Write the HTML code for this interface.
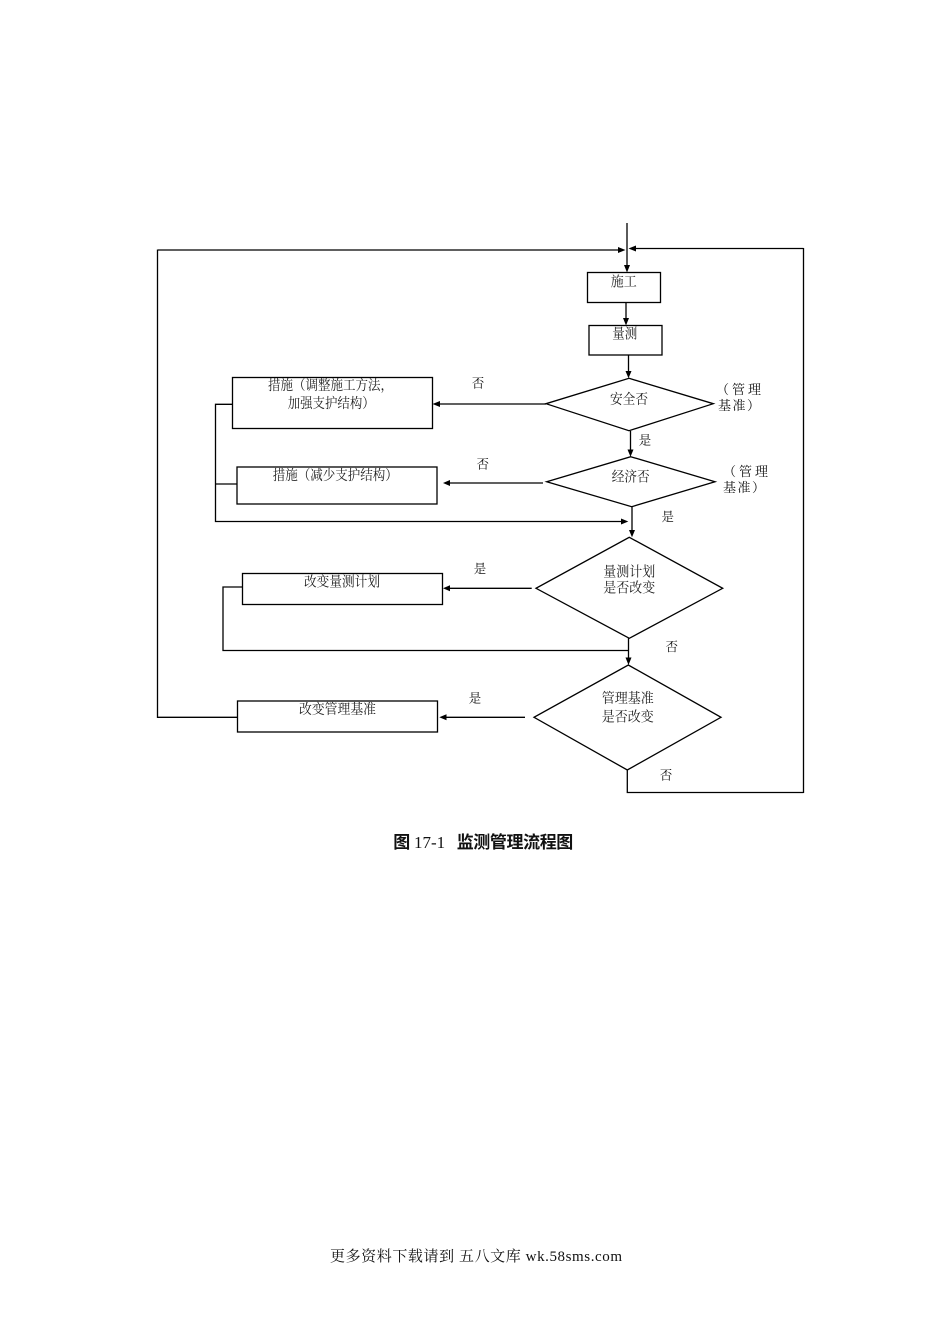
<!DOCTYPE html>
<html>
<head>
<meta charset="utf-8">
<style>
html,body{margin:0;padding:0;background:#fff;}
body{width:950px;height:1344px;position:relative;overflow:hidden;}
svg{position:absolute;left:0;top:0;}
.t{font-family:"Liberation Serif","Noto Serif CJK SC",serif;font-size:14px;fill:#222;}
.l{font-family:"Liberation Serif","Noto Serif CJK SC",serif;font-size:12.5px;fill:#111;}
.g{font-family:"Noto Serif CJK SC",serif;font-size:13px;fill:#111;}
</style>
</head>
<body>
<svg width="950" height="1344" viewBox="0 0 950 1344" xmlns="http://www.w3.org/2000/svg">
<g stroke="#000" stroke-width="1.3" fill="none">
  <line x1="627" y1="223" x2="627" y2="267"/>
  <line x1="158" y1="250" x2="620" y2="250"/>
  <line x1="803.5" y1="248.5" x2="634" y2="248.5"/>
  <line x1="803.5" y1="248" x2="803.5" y2="793"/>
  <rect x="587.5" y="272.5" width="73" height="30"/>
  <line x1="626" y1="302.5" x2="626" y2="320"/>
  <rect x="589" y="325.5" width="73" height="29.5"/>
  <line x1="628.5" y1="355" x2="628.5" y2="373"/>
  <polygon points="629,378.3 713.3,403.7 629,430.7 546,403.7"/>
  <line x1="546" y1="404" x2="438" y2="404"/>
  <rect x="232.5" y="377.5" width="200" height="51"/>
  <line x1="630.5" y1="431" x2="630.5" y2="452"/>
  <polygon points="630.7,456.7 715,481.7 631.7,506.7 546.7,481.7"/>
  <line x1="543" y1="483" x2="448" y2="483"/>
  <rect x="237" y="467" width="200" height="37"/>
  <polyline points="232.5,404.3 215.5,404.3 215.5,521.5 623,521.5"/>
  <line x1="215.5" y1="484" x2="237" y2="484"/>
  <line x1="632" y1="507" x2="632" y2="532"/>
  <polygon points="629.3,537.3 722.7,588.3 629.3,638.3 536,588.3"/>
  <line x1="531.7" y1="588.3" x2="448" y2="588.3"/>
  <rect x="242.5" y="573.5" width="200" height="31"/>
  <polyline points="242.5,587 223,587 223,650.5 628.5,650.5"/>
  <line x1="628.5" y1="638" x2="628.5" y2="660"/>
  <polygon points="628.3,665 721,717.3 627.3,770 534,717.3"/>
  <line x1="525" y1="717.3" x2="444" y2="717.3"/>
  <rect x="237.5" y="701" width="200" height="31"/>
  <polyline points="237.5,717.3 157.5,717.3 157.5,249.5"/>
  <polyline points="627.3,770 627.3,792.5 803.5,792.5"/>
</g>
<g fill="#000" stroke="none">
  <polygon points="627,272.5 624,265 630,265"/>
  <polygon points="625.5,250 618,247 618,253"/>
  <polygon points="628.5,248.5 636,245.5 636,251.5"/>
  <polygon points="626,325.5 623,318 629,318"/>
  <polygon points="628.5,378.3 625.5,371 631.5,371"/>
  <polygon points="432.5,404 440,401 440,407"/>
  <polygon points="630.5,456.7 627.5,449.5 633.5,449.5"/>
  <polygon points="443,483 450,480 450,486"/>
  <polygon points="628.3,521.5 621,518.5 621,524.5"/>
  <polygon points="632,537.3 629,530 635,530"/>
  <polygon points="443,588.3 450,585.3 450,591.3"/>
  <polygon points="628.5,665 625.5,657.5 631.5,657.5"/>
  <polygon points="439.3,717.3 446.5,714.3 446.5,720.3"/>
</g>
<text class="t" x="610.7" y="286.5" textLength="26" lengthAdjust="spacingAndGlyphs">施工</text>
<text class="t" x="612.3" y="338.5" textLength="25" lengthAdjust="spacingAndGlyphs">量测</text>
<text class="t" x="610" y="404" textLength="38" lengthAdjust="spacingAndGlyphs">安全否</text>
<text class="t" x="611.7" y="481.5" textLength="38" lengthAdjust="spacingAndGlyphs">经济否</text>
<text class="t" x="268" y="390" textLength="125" lengthAdjust="spacingAndGlyphs">措施（调整施工方法，</text>
<text class="t" x="287.7" y="408" textLength="87" lengthAdjust="spacingAndGlyphs">加强支护结构）</text>
<text class="t" x="272.7" y="480" textLength="125" lengthAdjust="spacingAndGlyphs">措施（减少支护结构）</text>
<text class="t" x="603.3" y="576.5" textLength="52" lengthAdjust="spacingAndGlyphs">量测计划</text>
<text class="t" x="603.3" y="592.5" textLength="52" lengthAdjust="spacingAndGlyphs">是否改变</text>
<text class="t" x="304" y="586.5" textLength="76" lengthAdjust="spacingAndGlyphs">改变量测计划</text>
<text class="t" x="601.7" y="703" textLength="52" lengthAdjust="spacingAndGlyphs">管理基准</text>
<text class="t" x="601.7" y="721.5" textLength="52" lengthAdjust="spacingAndGlyphs">是否改变</text>
<text class="t" x="299" y="714" textLength="77" lengthAdjust="spacingAndGlyphs">改变管理基准</text>
<text class="g" x="716" y="394" textLength="45" lengthAdjust="spacing">（管理</text>
<text class="g" x="718" y="410" textLength="42" lengthAdjust="spacing">基准）</text>
<text class="g" x="723" y="476" textLength="45" lengthAdjust="spacing">（管理</text>
<text class="g" x="723" y="492" textLength="42" lengthAdjust="spacing">基准）</text>
<text class="l" x="478" y="387.5" text-anchor="middle">否</text>
<text class="l" x="482.7" y="468.5" text-anchor="middle">否</text>
<text class="l" x="645" y="444.5" text-anchor="middle">是</text>
<text class="l" x="667.7" y="521" text-anchor="middle">是</text>
<text class="l" x="480" y="573" text-anchor="middle">是</text>
<text class="l" x="671.7" y="651" text-anchor="middle">否</text>
<text class="l" x="475" y="702.5" text-anchor="middle">是</text>
<text class="l" x="666" y="779.5" text-anchor="middle">否</text>
<text x="393.3" y="848" style="font-family:'Noto Sans CJK SC',sans-serif;font-size:17px;font-weight:bold;fill:#111;">图</text>
<text x="414" y="848" style="font-family:'Liberation Serif',serif;font-size:17px;fill:#111;">17-1</text>
<text x="456.7" y="848" style="font-family:'Noto Sans CJK SC',sans-serif;font-size:17px;font-weight:bold;fill:#111;" textLength="116.6" lengthAdjust="spacing">监测管理流程图</text>
<text x="330" y="1261" style="font-family:'Liberation Serif','Noto Serif CJK SC',serif;font-size:15px;fill:#111;" textLength="292" lengthAdjust="spacing">更多资料下载请到 五八文库 wk.58sms.com</text>
</svg>
</body>
</html>
